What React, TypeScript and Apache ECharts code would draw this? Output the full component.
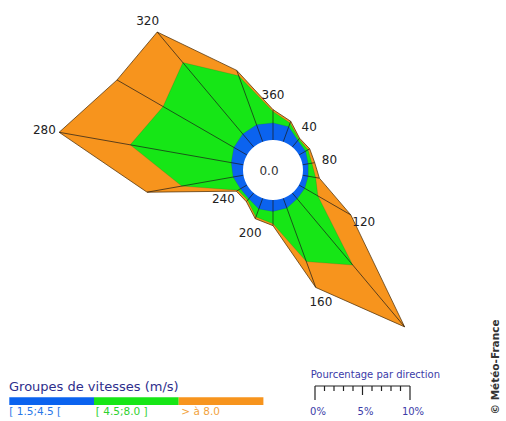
import React, { useEffect, useRef } from "react";
import * as echarts from "echarts";

// Wind directions (degrees, clockwise from north)
const directions = [20, 40, 60, 80, 100, 120, 140, 160, 180, 200, 220, 240, 260, 280, 300, 320, 340, 360];
// Percentage per direction for each speed group
const pctLow = [1.7, 0.9, 0.8, 0.6, 0.6, 0.7, 0.8, 1.1, 1.2, 1.2, 0.8, 0.8, 1.1, 1.3, 1.6, 1.8, 1.9, 1.8];
const pctMid = [0.4, 0.2, 0.3, 0.4, 0.8, 1.6, 9.1, 6.0, 1.3, 0.9, 0.2, 0.3, 5.5, 10.8, 8.6, 9.8, 5.5, 1.2];
const pctHigh = [0.2, 0.1, 0.2, 0.3, 0.4, 4.0, 8.5, 2.9, 0.2, 0.2, 0.2, 0.2, 3.7, 7.6, 5.6, 4.2, 0.6, 0.2];
const labelDirections = [40, 80, 120, 160, 200, 240, 280, 320, 360];
const calmLabel = "0.0";
const speedGroups = ["[ 1.5;4.5 [", "[ 4.5;8.0 ]", "> à 8.0"];
const legendTitle = "Groupes de vitesses (m/s)";
const scaleTitle = "Pourcentage par direction";
const scaleTicks = [0, 1, 2, 3, 4, 5, 6, 7, 8, 9, 10];
const scaleLabelValues = [0, 5, 10];
const scaleLabels = ["0%", "5%", "10%"];
const credit = "© Météo-France";

const speedColors = ["#0b63ef", "#16e616", "#f7941d"];
const legendTextColors = ["#2a78e8", "#2fd02f", "#f2a23c"];
const FONT = "DejaVu Sans";
const PX_PER_PCT = 9.5;
const HOLE = 30;
const RMIN = -HOLE / PX_PER_PCT;
const RMAX = 20;

export default function App() {
  const ref = useRef<HTMLDivElement>(null);
  useEffect(() => {
    if (!ref.current) return;
    const chart = echarts.init(ref.current, undefined, { renderer: "svg" });

    const cumLow = pctLow.map((v) => v);
    const cumMid = pctMid.map((v, i) => v + cumLow[i]);
    const cumHigh = pctHigh.map((v, i) => v + cumMid[i]);
    const bandCum = [cumHigh, cumMid, cumLow];
    const bandFill = [speedColors[2], speedColors[1], speedColors[0]];
    const bandStroke = ["#5a3a10", "rgba(40,60,40,0.35)", "rgba(20,40,90,0.3)"];
    const bandWidth = [0.8, 0.5, 0.5];

    const scaleX0 = 315;
    const scaleY = 386;

    const graphic: any[] = [
      {
        type: "text",
        left: 9,
        top: 380,
        style: { text: legendTitle, fill: "#2e2e8c", font: `13px '${FONT}'` },
      },
    ];
    speedGroups.forEach((g, i) => {
      graphic.push({
        type: "rect",
        shape: { x: 9.3 + i * 84.7, y: 397.3, width: 84.7, height: 7.7 },
        style: { fill: speedColors[i] },
      });
      graphic.push({
        type: "text",
        x: 9.3 + i * 85.5 + (i === 0 ? 0 : 1),
        y: 410.5,
        style: {
          text: g,
          fill: legendTextColors[i],
          font: `10.5px '${FONT}'`,
          align: "left",
          verticalAlign: "middle",
          textAlign: "left",
          textVerticalAlign: "middle",
        },
      });
    });
    graphic.push({
      type: "text",
      x: 310.7,
      y: 374.5,
      style: {
        text: scaleTitle,
        fill: "#3b3ba8",
        font: `10px '${FONT}'`,
        align: "left",
        verticalAlign: "middle",
        textAlign: "left",
        textVerticalAlign: "middle",
      },
    });
    graphic.push({
      type: "line",
      shape: { x1: scaleX0, y1: scaleY, x2: scaleX0 + 10 * PX_PER_PCT, y2: scaleY },
      style: { stroke: "#222", lineWidth: 1.2 },
    });
    scaleTicks.forEach((t) => {
      const major = t === 0 || t === 10;
      const mid = t === 5;
      const len = major ? 14 : mid ? 9 : 5;
      graphic.push({
        type: "line",
        shape: { x1: scaleX0 + t * PX_PER_PCT, y1: scaleY, x2: scaleX0 + t * PX_PER_PCT, y2: scaleY + len },
        style: { stroke: "#222", lineWidth: 1.2 },
      });
    });
    scaleLabelValues.forEach((v, i) => {
      graphic.push({
        type: "text",
        x: scaleX0 + v * PX_PER_PCT + 3,
        y: 411.5,
        style: {
          text: scaleLabels[i],
          fill: "#3b3ba8",
          font: `10px '${FONT}'`,
          align: "center",
          verticalAlign: "middle",
          textAlign: "center",
          textVerticalAlign: "middle",
        },
      });
    });
    graphic.push({
      type: "text",
      x: 495,
      y: 367,
      rotation: Math.PI / 2,
      style: {
        text: credit,
        fill: "#333",
        font: `bold 10.5px '${FONT}'`,
        align: "center",
        verticalAlign: "middle",
        textAlign: "center",
        textVerticalAlign: "middle",
      },
    });

    const hideAxis = {
      axisLine: { show: false },
      axisTick: { show: false },
      axisLabel: { show: false },
      splitLine: { show: false },
      splitArea: { show: false },
    };

    chart.setOption({
      animation: false,
      polar: { center: [273, 170], radius: HOLE + RMAX * PX_PER_PCT },
      radiusAxis: { type: "value", min: RMIN, max: RMAX, ...hideAxis },
      angleAxis: { type: "value", min: 0, max: 360, startAngle: 90, clockwise: true, ...hideAxis },
      graphic,
      series: [
        {
          type: "custom",
          coordinateSystem: "polar",
          z: 2,
          data: bandCum.map((_, k) => [k, 0]),
          renderItem: (params: any, api: any) => {
            const k = params.dataIndex;
            const cum = bandCum[k];
            const points = directions.map((d, i) => api.coord([cum[i], d]));
            return {
              type: "polygon",
              shape: { points },
              style: { fill: bandFill[k], stroke: bandStroke[k], lineWidth: bandWidth[k] },
            };
          },
        },
        {
          type: "custom",
          coordinateSystem: "polar",
          z: 3,
          data: directions.map((d, i) => [cumHigh[i], d]),
          renderItem: (params: any, api: any) => {
            const a = api.value(1);
            const p0 = api.coord([0, a]);
            const p1 = api.coord([api.value(0), a]);
            return {
              type: "line",
              shape: { x1: p0[0], y1: p0[1], x2: p1[0], y2: p1[1] },
              style: { stroke: "#1a1a1a", lineWidth: 0.7 },
            };
          },
        },
        {
          type: "custom",
          coordinateSystem: "polar",
          z: 4,
          data: [[0, 0]],
          renderItem: (params: any, api: any) => {
            const c = api.coord([RMIN, 0]);
            const e = api.coord([0, 0]);
            const r = Math.hypot(e[0] - c[0], e[1] - c[1]);
            return {
              type: "group",
              children: [
                { type: "circle", shape: { cx: c[0], cy: c[1], r }, style: { fill: "#ffffff" } },
                {
                  type: "text",
                  x: c[0] - 4,
                  y: c[1] + 0.5,
                  style: {
                    text: calmLabel,
                    fill: "#333",
                    font: `12px '${FONT}'`,
                    align: "center",
                    verticalAlign: "middle",
                    textAlign: "center",
                    textVerticalAlign: "middle",
                  },
                },
              ],
            };
          },
        },
        {
          type: "custom",
          coordinateSystem: "polar",
          z: 5,
          data: labelDirections.map((d) => [cumHigh[directions.indexOf(d)], d]),
          renderItem: (params: any, api: any) => {
            const a = api.value(1);
            const p = api.coord([api.value(0) + 15 / PX_PER_PCT, a]);
            return {
              type: "text",
              x: p[0],
              y: p[1],
              style: {
                text: String(a),
                fill: "#222",
                font: `12px '${FONT}'`,
                align: "center",
                verticalAlign: "middle",
                textAlign: "center",
                textVerticalAlign: "middle",
              },
            };
          },
        },
      ],
    });
    return () => chart.dispose();
  }, []);
  return (
    <div
      ref={ref}
      style={{ position: "fixed", left: 0, top: 0, width: 506, height: 421, background: "#fff" }}
    />
  );
}
